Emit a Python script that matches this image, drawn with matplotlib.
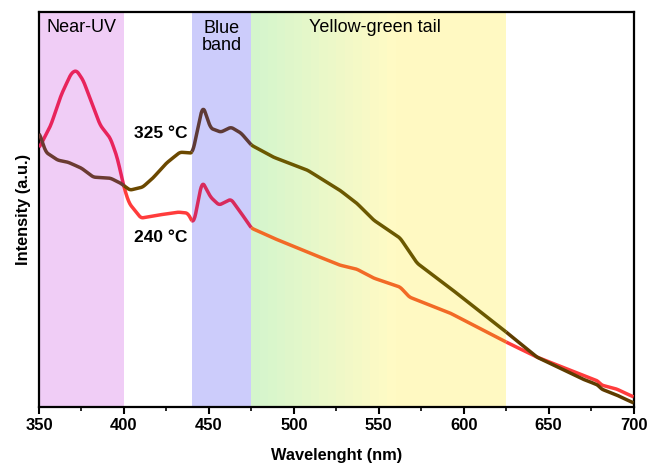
import numpy as np
import matplotlib
matplotlib.use("Agg")
import matplotlib.pyplot as plt
from matplotlib.colors import to_rgb

plt.rcParams["font.family"] = ["Liberation Sans", "DejaVu Sans"]

# ---- data (arbitrary intensity units) ----
wl_240 = [350, 357, 363, 369, 372, 376, 382, 386, 392, 396, 400, 403, 410, 420, 432,
          437.6, 441, 446, 451, 456, 463, 469, 475, 488, 508, 527, 537, 547, 562.6,
          568, 592, 625, 643, 670, 679, 681, 690, 700]
int_240 = [259, 282, 312, 334, 337, 327, 300, 282, 269, 250, 220, 204, 189, 192, 195,
           194, 183, 226, 210, 202, 208, 194, 179, 169, 155, 142, 138, 129, 120,
           110, 94, 65, 50, 32, 26, 22, 18, 10]

wl_325 = [350, 354, 361, 367, 375, 382, 392, 398, 403.5, 411, 417, 425, 433, 440.4,
          446.4, 451, 457, 463, 469, 475, 488, 508, 527, 537, 547, 562.6, 572.5, 592,
          625, 643, 670, 679, 681, 690, 700]
int_325 = [275, 255, 247, 245, 239, 230, 229, 224, 217, 220, 229, 244, 255, 254,
           302, 279, 275, 280, 274, 262, 250, 237, 217, 204, 187, 169, 144, 119,
           75, 50, 28, 22, 18, 12, 4]

# spectral regions (nm)
edges = [350, 400, 440, 475, 625, 700]
colors_240 = ["#e8245c", "#ff3c3c", "#d82a5c", "#f26a26", "#ff3c3c"]
colors_325 = ["#6b3b32", "#6b4800", "#5e3a36", "#6b5800", "#5e3c00"]

region_labels = ["Near-UV", "Blue\nband", "Yellow-green tail"]
region_label_x = [375, 457.5, 548]

fig = plt.figure(figsize=(6.52, 4.65), dpi=100)
ax = fig.add_axes([0.0598, 0.1247, 0.912, 0.849])

# background bands
ax.axvspan(350, 400, color="#f0cdf6", lw=0, zorder=0)
ax.axvspan(440, 475, color="#ccccfb", lw=0, zorder=0)
g0, g1 = np.array(to_rgb("#d4f5cc")), np.array(to_rgb("#fffac4"))
strips = np.linspace(475, 560, 18)
for i in range(len(strips) - 1):
    t = i / (len(strips) - 2)
    ax.axvspan(strips[i], strips[i + 1] + 0.3, color=g0 + (g1 - g0) * t, lw=0, zorder=0)
ax.axvspan(560, 625, color="#fff9c2", lw=0, zorder=0)


def draw_curve(wl, val, cols):
    x = np.linspace(350, 700, 1401)
    y = np.interp(x, wl, val)
    # light smoothing so the traced points read as a continuous spectrum
    w = 11
    yp = np.concatenate([np.full(w, y[0]), y, np.full(w, y[-1])])
    y = np.convolve(yp, np.ones(w) / w, mode="same")[w:-w]
    for k in range(len(edges) - 1):
        m = (x >= edges[k]) & (x <= edges[k + 1])
        ax.plot(x[m], y[m], color=cols[k], lw=2.5, solid_capstyle="butt", zorder=3)


draw_curve(wl_240, int_240, colors_240)
draw_curve(wl_325, int_325, colors_325)

ax.text(region_label_x[0], 380, region_labels[0], ha="center", va="center", fontsize=13)
ax.text(region_label_x[1], 370, region_labels[1], ha="center", va="center", fontsize=13,
        linespacing=1.0)
ax.text(region_label_x[2], 380, region_labels[2], ha="center", va="center", fontsize=13)

ax.text(437.5, 274, "325 °C", ha="right", va="center", fontsize=12.5, fontweight="bold")
ax.text(437.5, 170, "240 °C", ha="right", va="center", fontsize=12.5, fontweight="bold")

ax.set_xlim(350, 700)
ax.set_ylim(0, 395)
ax.set_xticks(np.arange(350, 701, 50))
ax.set_xticks(np.arange(375, 700, 50), minor=True)
ax.set_yticks([])
ax.tick_params(axis="x", which="major", direction="out", length=5, width=1.5,
               labelsize=12, pad=3)
ax.tick_params(axis="x", which="minor", direction="out", length=3, width=1.2)
for lab in ax.get_xticklabels():
    lab.set_fontweight("bold")
for s in ax.spines.values():
    s.set_linewidth(1.6)

ax.set_xlabel("Wavelenght (nm)", fontsize=11.8, fontweight="bold", labelpad=11)
ax.set_ylabel("Intensity (a.u.)", fontsize=11.8, fontweight="bold", labelpad=6)

fig.savefig("out.png", dpi=100)
